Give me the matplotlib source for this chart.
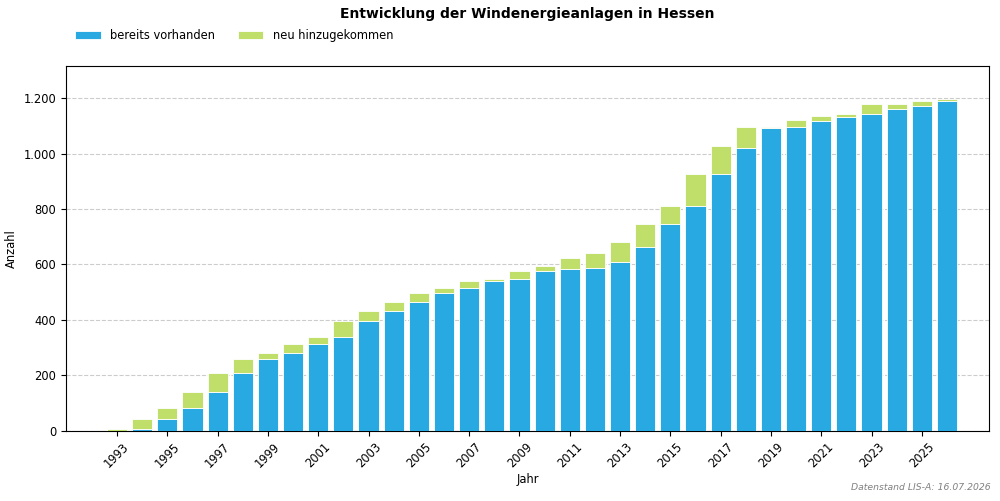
import numpy as np
import matplotlib
matplotlib.use("Agg")
import matplotlib.pyplot as plt
from matplotlib.ticker import FuncFormatter

years = list(range(1993, 2027))
vorhanden = [0, 5, 43, 83, 139, 209, 258, 280, 312, 340, 396, 432, 463, 496, 514, 540,
             548, 575, 584, 586, 610, 664, 746, 810, 925, 1020, 1093, 1094, 1118, 1130,
             1143, 1159, 1171, 1189]
neu = [5, 38, 40, 56, 70, 49, 22, 32, 28, 56, 35, 31, 33, 18, 25, 8,
       27, 19, 41, 54, 70, 81, 65, 115, 102, 75, 2, 26, 17, 12,
       37, 21, 18, 9]

blue = '#29a9e1'
green = '#c0de6a'

plt.rcParams['font.size'] = 8.3

fig, ax = plt.subplots(figsize=(10, 5.01), dpi=100)
fig.subplots_adjust(left=0.066, right=0.989, top=0.868, bottom=0.14)

ax.bar(years, vorhanden, width=0.8, color=blue, edgecolor='white', linewidth=0.6,
       label='bereits vorhanden', zorder=3)
ax.bar(years, neu, width=0.8, bottom=vorhanden, color=green, edgecolor='white',
       linewidth=0.6, label='neu hinzugekommen', zorder=3)

ax.set_xlim(1990.97, 2027.67)
ax.set_ylim(0, 1315)
ax.set_xticks(years[::2])
ax.set_xticklabels([str(y) for y in years[::2]], rotation=45)
ax.yaxis.set_major_formatter(FuncFormatter(lambda v, p: f'{int(v):,}'.replace(',', '.')))
ax.grid(axis='y', linestyle='--', color='#cccccc', linewidth=0.8, zorder=0)

ax.set_xlabel('Jahr', labelpad=2)
ax.set_ylabel('Anzahl')
fig.text(0.5275, 0.972, 'Entwicklung der Windenergieanlagen in Hessen', fontweight='bold',
         fontsize=10, ha='center', va='center')
fig.legend(loc='upper left', bbox_to_anchor=(0.065, 0.962), ncol=2, frameon=False,
           handlelength=2.2, columnspacing=2.0)
fig.text(0.991, 0.017, 'Datenstand LIS-A: 16.07.2026', ha='right', va='bottom',
         fontsize=6.7, style='italic', color='gray')

fig.savefig('out.png', dpi=100)
